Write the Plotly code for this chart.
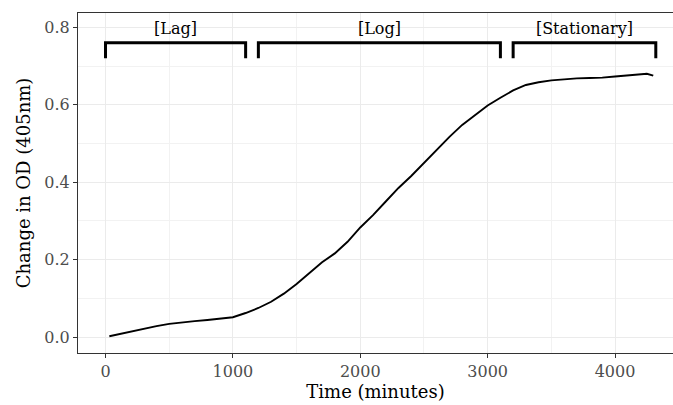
import plotly.graph_objects as go

time_min = [30, 100, 200, 300, 400, 500, 600, 700, 800, 900, 1000, 1100, 1200, 1300,
            1400, 1500, 1600, 1700, 1800, 1900, 2000, 2100, 2200, 2300, 2400, 2500,
            2600, 2700, 2800, 2900, 3000, 3100, 3200, 3300, 3400, 3500, 3600, 3700,
            3800, 3900, 4000, 4100, 4150, 4200, 4250, 4300]
od_change = [0.002, 0.007, 0.015, 0.022, 0.028, 0.034, 0.038, 0.041, 0.044, 0.047,
             0.051, 0.062, 0.075, 0.091, 0.112, 0.137, 0.166, 0.193, 0.216, 0.246,
             0.283, 0.315, 0.350, 0.385, 0.416, 0.450, 0.483, 0.517, 0.548, 0.573,
             0.598, 0.618, 0.637, 0.651, 0.658, 0.663, 0.666, 0.668, 0.669, 0.670,
             0.673, 0.676, 0.677, 0.679, 0.680, 0.675]

phase_labels = ["[Lag]", "[Log]", "[Stationary]"]
phase_start = [0, 1200, 3200]
phase_end = [1100, 3100, 4320]
bracket_top = 0.76
bracket_bottom = 0.72
label_y = 0.792

x_ticks = [0, 1000, 2000, 3000, 4000]
y_ticks = [0.0, 0.2, 0.4, 0.6, 0.8]

FONT = "DejaVu Serif"

fig = go.Figure()
fig.add_trace(go.Scatter(x=time_min, y=od_change, mode="lines",
                         line=dict(color="black", width=1.9), showlegend=False))

for lab, s, e in zip(phase_labels, phase_start, phase_end):
    fig.add_trace(go.Scatter(x=[s, s, e, e],
                             y=[bracket_bottom, bracket_top, bracket_top, bracket_bottom],
                             mode="lines", line=dict(color="black", width=3),
                             showlegend=False))
    fig.add_trace(go.Scatter(x=[(s + e) / 2], y=[label_y], mode="text", text=[lab],
                             textfont=dict(family=FONT, size=16, color="black"),
                             showlegend=False))

fig.update_layout(
    width=673, height=405,
    margin=dict(l=78, r=0, t=13, b=52),
    paper_bgcolor="white", plot_bgcolor="white",
    font=dict(family=FONT, color="black"),
    xaxis=dict(range=[-216, 4455], tickvals=x_ticks, ticktext=[str(v) for v in x_ticks],
               showgrid=True, gridcolor="#EBEBEB", gridwidth=1.1,
               minor=dict(dtick=500, showgrid=True, gridcolor="#F2F2F2", gridwidth=0.6,
                          tick0=500),
               showline=True, linecolor="#333333", linewidth=1.1, mirror=True,
               ticks="outside", ticklen=4, tickcolor="#333333",
               tickfont=dict(family=FONT, size=16, color="#4D4D4D"),
               title=dict(text="Time (minutes)", font=dict(family=FONT, size=18, color="black"),
                          standoff=0),
               zeroline=False),
    yaxis=dict(range=[-0.0413, 0.837], tickvals=y_ticks, ticktext=["0.0", "0.2", "0.4", "0.6", "0.8"],
               showgrid=True, gridcolor="#EBEBEB", gridwidth=1.1,
               minor=dict(dtick=0.1, tick0=0.1, showgrid=True, gridcolor="#F2F2F2", gridwidth=0.6),
               showline=True, linecolor="#333333", linewidth=1.1,
               ticks="outside", ticklen=4, tickcolor="#333333",
               tickfont=dict(family=FONT, size=16, color="#4D4D4D"),
               title=dict(text="Change in OD (405nm)", font=dict(family=FONT, size=18, color="black"),
                          standoff=8),
               zeroline=False),
)

fig.write_html("out.html")
